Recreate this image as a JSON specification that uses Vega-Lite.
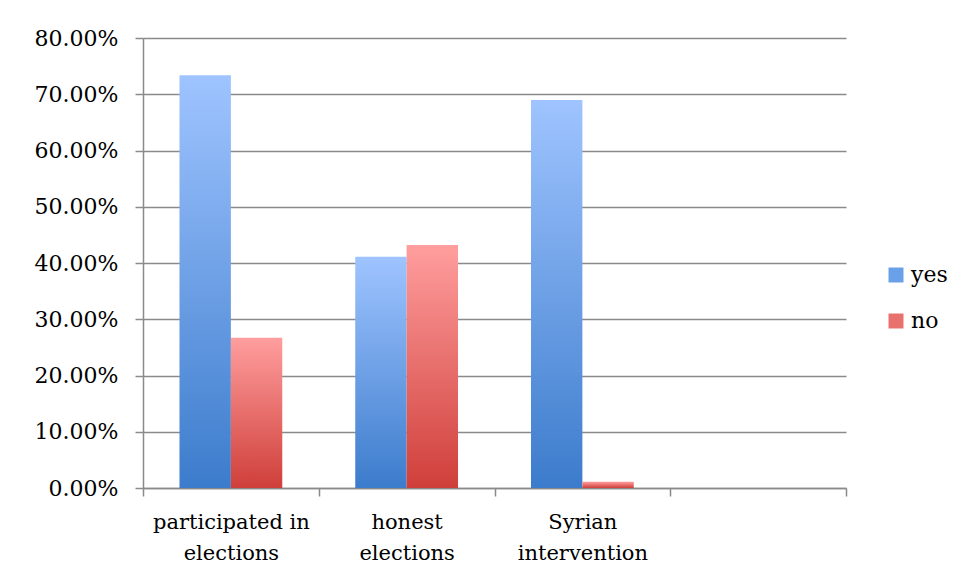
{
  "$schema": "https://vega.github.io/schema/vega-lite/v6.json",
  "autosize": {"type": "none"},
  "padding": {"left": 143, "top": 38, "right": 122, "bottom": 91},
  "width": 703,
  "height": 450,
  "background": "white",
  "data": {
    "values": [
      {"category": "participated in elections", "answer": "yes", "share": 0.734},
      {"category": "participated in elections", "answer": "no", "share": 0.267},
      {"category": "honest elections", "answer": "yes", "share": 0.411},
      {"category": "honest elections", "answer": "no", "share": 0.432},
      {"category": "Syrian intervention", "answer": "yes", "share": 0.690},
      {"category": "Syrian intervention", "answer": "no", "share": 0.011}
    ]
  },
  "encoding": {
    "x": {
      "field": "category",
      "type": "nominal",
      "sort": null,
      "scale": {"domain": ["participated in elections", "honest elections", "Syrian intervention", " "], "paddingInner": 0, "paddingOuter": 0},
      "axis": {
        "title": null,
        "labelAngle": 0,
        "labelExpr": "datum.value == 'participated in elections' ? ['participated in', 'elections'] : datum.value == 'honest elections' ? ['honest', 'elections'] : datum.value == 'Syrian intervention' ? ['Syrian', 'intervention'] : ''",
        "labelFontSize": 21,
        "labelLineHeight": 31,
        "labelPadding": 15,
        "tickBand": "extent",
        "tickSize": 8,
        "grid": false
      }
    },
    "xOffset": {
      "field": "answer",
      "type": "nominal",
      "scale": {"domain": ["yes", "no"], "paddingInner": 0, "paddingOuter": 0.71}
    },
    "y": {
      "field": "share",
      "type": "quantitative",
      "scale": {"domain": [0, 0.8], "nice": false},
      "axis": {
        "title": null,
        "format": ".2%",
        "values": [0, 0.1, 0.2, 0.3, 0.4, 0.5, 0.6, 0.7, 0.8],
        "tickSize": 8,
        "labelPadding": 17,
        "grid": true
      }
    }
  },
  "layer": [
    {
      "transform": [{"filter": "datum.answer === 'yes'"}],
      "mark": {"type": "bar", "color": {"gradient": "linear", "x1": 0, "y1": 0, "x2": 0, "y2": 1, "stops": [{"offset": 0, "color": "#9fc4ff"}, {"offset": 1, "color": "#3c7ccc"}]}}
    },
    {
      "transform": [{"filter": "datum.answer === 'no'"}],
      "mark": {"type": "bar", "color": {"gradient": "linear", "x1": 0, "y1": 0, "x2": 0, "y2": 1, "stops": [{"offset": 0, "color": "#ff9e9e"}, {"offset": 1, "color": "#cf3f3a"}]}}
    },
    {
      "mark": {"type": "square", "opacity": 0},
      "encoding": {
        "color": {
          "field": "answer",
          "type": "nominal",
          "scale": {"domain": ["yes", "no"], "range": ["#6aa0e8", "#e8706d"]},
          "legend": {
            "title": null,
            "orient": "none",
            "legendX": 742,
            "legendY": 226,
            "symbolType": "square",
            "symbolSize": 225,
            "symbolOpacity": 1,
            "symbolStrokeWidth": 0,
            "labelFont": "DejaVu Serif",
            "labelFontSize": 22,
            "labelOffset": 4,
            "rowPadding": 24
          }
        }
      }
    }
  ],
  "config": {
    "font": "DejaVu Serif",
    "view": {"stroke": null},
    "axis": {
      "labelFont": "DejaVu Serif",
      "labelFontSize": 22,
      "labelColor": "black",
      "domainColor": "#8a8a8a",
      "domainWidth": 1.5,
      "tickColor": "#8a8a8a",
      "tickWidth": 1.5,
      "gridColor": "#8a8a8a",
      "gridWidth": 1.5
    },
    "legend": {"labelFont": "DejaVu Serif", "labelColor": "black"}
  }
}
